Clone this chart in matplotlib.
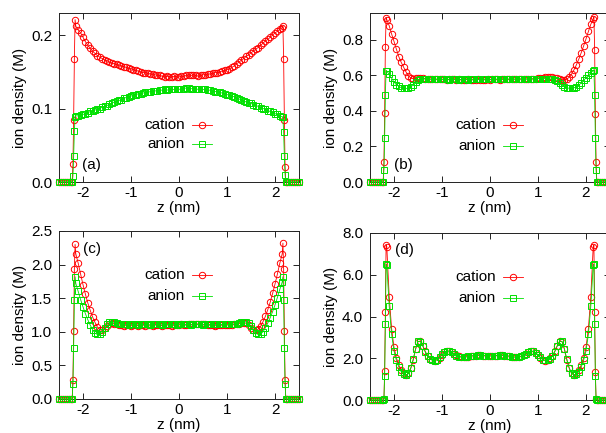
import matplotlib
matplotlib.use("Agg")
import matplotlib.pyplot as plt
from matplotlib.lines import Line2D
from matplotlib.ticker import FormatStrFormatter

plt.rcParams['font.family'] = ['Liberation Sans', 'DejaVu Sans']
plt.rcParams['axes.unicode_minus'] = False

# ---------------- z grid (nm) ----------------
z_wall_left = [-2.50, -2.46, -2.42, -2.38, -2.34, -2.30, -2.26, -2.225]
z_rise_left = [-2.21, -2.195, -2.18, -2.165]
z_main = [-2.15, -2.10, -2.05, -2.00, -1.95, -1.90, -1.85, -1.80, -1.75, -1.70,
          -1.65, -1.60, -1.55, -1.50, -1.45, -1.40, -1.35, -1.30, -1.25, -1.20,
          -1.15, -1.10, -1.05, -1.00, -0.95, -0.90, -0.85, -0.80, -0.75, -0.70,
          -0.65, -0.60, -0.55, -0.50, -0.45, -0.40, -0.35, -0.30, -0.25, -0.20,
          -0.15, -0.10, -0.05, 0.00, 0.05, 0.10, 0.15, 0.20, 0.25, 0.30,
          0.35, 0.40, 0.45, 0.50, 0.55, 0.60, 0.65, 0.70, 0.75, 0.80,
          0.85, 0.90, 0.95, 1.00, 1.05, 1.10, 1.15, 1.20, 1.25, 1.30,
          1.35, 1.40, 1.45, 1.50, 1.55, 1.60, 1.65, 1.70, 1.75, 1.80,
          1.85, 1.90, 1.95, 2.00, 2.05, 2.10, 2.15]
z_rise_right = [2.165, 2.18, 2.195, 2.21]
z_wall_right = [2.225, 2.26, 2.30, 2.34, 2.38, 2.42, 2.46, 2.50]
wall_zeros = [0.0, 0.0, 0.0, 0.0, 0.0, 0.0, 0.0, 0.0]

# ---------------- panel (a) ----------------
a_cat_left = [0.024, 0.085, 0.167, 0.221]
a_cat_main = [0.212, 0.207, 0.203, 0.197, 0.191, 0.186, 0.182, 0.178, 0.175, 0.172,
              0.170, 0.168, 0.166, 0.165, 0.163, 0.162, 0.161, 0.160, 0.159, 0.158,
              0.157, 0.156, 0.155, 0.154, 0.153, 0.152, 0.151, 0.150, 0.149, 0.149,
              0.148, 0.147, 0.147, 0.146, 0.145, 0.145, 0.144, 0.143, 0.144, 0.143,
              0.143, 0.144, 0.143, 0.143, 0.144, 0.144, 0.145, 0.146, 0.145, 0.146,
              0.145, 0.144, 0.145, 0.146, 0.146, 0.147, 0.147, 0.148, 0.149, 0.149,
              0.150, 0.151, 0.152, 0.153, 0.154, 0.156, 0.158, 0.161, 0.163, 0.166,
              0.168, 0.171, 0.173, 0.176, 0.178, 0.181, 0.183, 0.186, 0.189, 0.192,
              0.194, 0.197, 0.200, 0.203, 0.205, 0.208, 0.210]
a_cat_right = [0.212, 0.167, 0.085, 0.021]
a_ani_left = [0.008, 0.035, 0.069, 0.089]
a_ani_main = [0.090, 0.090, 0.091, 0.092, 0.093, 0.094, 0.096, 0.097, 0.098, 0.099,
              0.100, 0.102, 0.103, 0.104, 0.106, 0.107, 0.109, 0.110, 0.111, 0.112,
              0.114, 0.115, 0.116, 0.117, 0.118, 0.119, 0.120, 0.120, 0.121, 0.122,
              0.122, 0.123, 0.124, 0.124, 0.124, 0.125, 0.125, 0.126, 0.125, 0.126,
              0.126, 0.126, 0.127, 0.126, 0.127, 0.127, 0.128, 0.128, 0.127, 0.127,
              0.127, 0.126, 0.127, 0.126, 0.126, 0.125, 0.125, 0.124, 0.123, 0.123,
              0.122, 0.121, 0.120, 0.119, 0.118, 0.117, 0.116, 0.114, 0.113, 0.112,
              0.110, 0.109, 0.108, 0.107, 0.105, 0.104, 0.103, 0.101, 0.100, 0.099,
              0.097, 0.096, 0.095, 0.093, 0.092, 0.090, 0.089]
a_ani_right = [0.088, 0.068, 0.035, 0.010]

# ---------------- panel (b) ----------------
b_cat_left = [0.11, 0.39, 0.76, 0.925]
b_cat_main = [0.915, 0.880, 0.834, 0.792, 0.748, 0.706, 0.674, 0.647, 0.620, 0.598,
              0.586, 0.582, 0.585, 0.588, 0.587, 0.585, 0.583, 0.582, 0.580, 0.579,
              0.580, 0.579, 0.578, 0.579, 0.578, 0.577, 0.578, 0.579, 0.578, 0.577,
              0.578, 0.577, 0.576, 0.577, 0.578, 0.577, 0.576, 0.577, 0.578, 0.577,
              0.576, 0.577, 0.578, 0.577, 0.578, 0.579, 0.578, 0.577, 0.578, 0.579,
              0.578, 0.579, 0.580, 0.579, 0.578, 0.579, 0.580, 0.580, 0.581, 0.580,
              0.581, 0.582, 0.583, 0.584, 0.585, 0.587, 0.589, 0.590, 0.591, 0.590,
              0.588, 0.585, 0.581, 0.577, 0.576, 0.580, 0.590, 0.608, 0.632, 0.660,
              0.692, 0.728, 0.766, 0.806, 0.848, 0.888, 0.920]
b_cat_right = [0.930, 0.745, 0.385, 0.11]
b_ani_left = [0.07, 0.25, 0.49, 0.628]
b_ani_main = [0.625, 0.606, 0.585, 0.563, 0.548, 0.538, 0.532, 0.528, 0.527, 0.529,
              0.536, 0.548, 0.562, 0.574, 0.579, 0.581, 0.581, 0.580, 0.579, 0.579,
              0.578, 0.579, 0.578, 0.578, 0.579, 0.578, 0.577, 0.578, 0.579, 0.578,
              0.577, 0.578, 0.579, 0.578, 0.577, 0.578, 0.579, 0.580, 0.579, 0.578,
              0.579, 0.580, 0.579, 0.578, 0.579, 0.580, 0.579, 0.578, 0.579, 0.580,
              0.579, 0.580, 0.581, 0.580, 0.579, 0.580, 0.581, 0.580, 0.579, 0.580,
              0.581, 0.580, 0.581, 0.582, 0.583, 0.583, 0.582, 0.581, 0.580, 0.579,
              0.576, 0.568, 0.557, 0.546, 0.537, 0.531, 0.528, 0.528, 0.531, 0.537,
              0.546, 0.558, 0.572, 0.587, 0.601, 0.615, 0.627]
b_ani_right = [0.632, 0.49, 0.25, 0.07]

# ---------------- panel (c) ----------------
c_cat_left = [0.29, 1.01, 1.93, 2.30]
c_cat_main = [2.16, 2.02, 1.86, 1.70, 1.56, 1.43, 1.32, 1.22, 1.14, 1.07,
              1.03, 1.02, 1.05, 1.09, 1.12, 1.13, 1.12, 1.11, 1.10, 1.10,
              1.09, 1.10, 1.10, 1.09, 1.10, 1.10, 1.09, 1.10, 1.10, 1.09,
              1.10, 1.10, 1.09, 1.10, 1.10, 1.10, 1.09, 1.10, 1.10, 1.10,
              1.09, 1.10, 1.10, 1.10, 1.11, 1.10, 1.10, 1.11, 1.11, 1.11,
              1.11, 1.12, 1.12, 1.11, 1.11, 1.10, 1.10, 1.10, 1.09, 1.10,
              1.10, 1.10, 1.10, 1.10, 1.10, 1.10, 1.11, 1.11, 1.12, 1.13,
              1.13, 1.13, 1.10, 1.06, 1.03, 1.02, 1.04, 1.08, 1.15, 1.23,
              1.33, 1.44, 1.57, 1.71, 1.86, 2.02, 2.16]
c_cat_right = [2.32, 1.93, 1.01, 0.29]
c_ani_left = [0.23, 0.76, 1.48, 1.82]
c_ani_main = [1.72, 1.60, 1.48, 1.37, 1.27, 1.18, 1.10, 1.03, 0.98, 0.96,
              0.96, 0.99, 1.05, 1.11, 1.14, 1.15, 1.14, 1.13, 1.12, 1.11,
              1.11, 1.11, 1.10, 1.11, 1.11, 1.11, 1.10, 1.11, 1.11, 1.11,
              1.11, 1.10, 1.11, 1.11, 1.11, 1.11, 1.10, 1.11, 1.11, 1.11,
              1.11, 1.11, 1.10, 1.11, 1.11, 1.11, 1.11, 1.11, 1.10, 1.11,
              1.11, 1.11, 1.11, 1.10, 1.11, 1.11, 1.11, 1.11, 1.11, 1.11,
              1.11, 1.11, 1.11, 1.11, 1.11, 1.11, 1.12, 1.12, 1.13, 1.14,
              1.15, 1.15, 1.13, 1.08, 1.02, 0.98, 0.96, 0.97, 1.00, 1.06,
              1.13, 1.21, 1.30, 1.40, 1.51, 1.63, 1.74]
c_ani_right = [1.82, 1.48, 0.76, 0.23]

# ---------------- panel (d) ----------------
d_cat_left = [0.05, 1.38, 4.21, 7.42]
d_cat_main = [7.35, 4.95, 3.42, 2.52, 2.02, 1.68, 1.42, 1.27, 1.20, 1.27,
              1.52, 1.92, 2.43, 2.80, 2.82, 2.60, 2.33, 2.12, 1.98, 1.91,
              1.89, 1.93, 2.03, 2.17, 2.28, 2.34, 2.35, 2.30, 2.22, 2.14,
              2.09, 2.06, 2.05, 2.06, 2.08, 2.10, 2.12, 2.13, 2.14, 2.14,
              2.13, 2.12, 2.11, 2.11, 2.11, 2.12, 2.13, 2.14, 2.14, 2.13,
              2.12, 2.10, 2.08, 2.06, 2.05, 2.06, 2.09, 2.14, 2.22, 2.30,
              2.35, 2.33, 2.26, 2.15, 2.02, 1.93, 1.89, 1.91, 1.99, 2.13,
              2.33, 2.60, 2.82, 2.80, 2.43, 1.92, 1.52, 1.28, 1.20, 1.27,
              1.42, 1.68, 2.02, 2.52, 3.42, 4.95, 7.35]
d_cat_right = [7.42, 4.22, 1.35, 0.05]
d_ani_left = [0.03, 1.15, 3.63, 6.50]
d_ani_main = [6.45, 4.50, 3.15, 2.35, 1.90, 1.58, 1.36, 1.24, 1.19, 1.27,
              1.53, 1.95, 2.46, 2.81, 2.80, 2.58, 2.31, 2.11, 1.97, 1.90,
              1.89, 1.94, 2.04, 2.18, 2.29, 2.34, 2.34, 2.29, 2.21, 2.13,
              2.08, 2.06, 2.05, 2.07, 2.09, 2.11, 2.12, 2.13, 2.14, 2.14,
              2.13, 2.12, 2.12, 2.11, 2.12, 2.12, 2.13, 2.14, 2.14, 2.13,
              2.12, 2.10, 2.08, 2.06, 2.05, 2.07, 2.10, 2.15, 2.22, 2.29,
              2.34, 2.33, 2.27, 2.16, 2.04, 1.94, 1.90, 1.91, 1.98, 2.11,
              2.32, 2.58, 2.80, 2.81, 2.46, 1.96, 1.54, 1.28, 1.19, 1.24,
              1.36, 1.58, 1.90, 2.35, 3.15, 4.50, 6.45]
d_ani_right = [6.50, 3.63, 1.15, 0.03]

panel_labels = ['(a)', '(b)', '(c)', '(d)']
series_names = ['cation', 'anion']
x_ticks = [-2, -1, 0, 1, 2]
y_ticks_a = [0.0, 0.1, 0.2]
y_ticks_b = [0.0, 0.2, 0.4, 0.6, 0.8]
y_ticks_c = [0.0, 0.5, 1.0, 1.5, 2.0, 2.5]
y_ticks_d = [0.0, 2.0, 4.0, 6.0, 8.0]

RED = '#ff0000'
GREEN = '#00e000'
W, H = 606, 433

z_full = z_wall_left + z_rise_left + z_main + z_rise_right + z_wall_right


def full(left, main, right):
    return wall_zeros + left + main + right + wall_zeros


fig = plt.figure(figsize=(W / 100, H / 100), dpi=100)


def px_axes(x0, y_top, x1, y_bot):
    return fig.add_axes([x0 / W, 1 - y_bot / H, (x1 - x0) / W, (y_bot - y_top) / H])


panels = [
    dict(box=(59, 13, 299, 182), cat=full(a_cat_left, a_cat_main, a_cat_right),
         ani=full(a_ani_left, a_ani_main, a_ani_right), ylim=(0, 0.23), yt=y_ticks_a,
         lab=panel_labels[0], lab_xy=(0.095, 0.10), leg_y=(0.337, 0.222)),
    dict(box=(370, 13, 610, 182), cat=full(b_cat_left, b_cat_main, b_cat_right),
         ani=full(b_ani_left, b_ani_main, b_ani_right), ylim=(0, 0.952), yt=y_ticks_b,
         lab=panel_labels[1], lab_xy=(0.099, 0.10), leg_y=(0.337, 0.215)),
    dict(box=(59, 231, 299, 399), cat=full(c_cat_left, c_cat_main, c_cat_right),
         ani=full(c_ani_left, c_ani_main, c_ani_right), ylim=(0, 2.5), yt=y_ticks_c,
         lab=panel_labels[2], lab_xy=(0.100, 0.89), leg_y=(0.736, 0.613)),
    dict(box=(370, 233, 610, 400), cat=full(d_cat_left, d_cat_main, d_cat_right),
         ani=full(d_ani_left, d_ani_main, d_ani_right), ylim=(0, 8.0), yt=y_ticks_d,
         lab=panel_labels[3], lab_xy=(0.103, 0.90), leg_y=(0.736, 0.613)),
]

MS = 4.6
MEW = 0.7
LW = 0.6

for p in panels:
    ax = px_axes(*p['box'])
    ax.plot(z_full, p['cat'], color=RED, lw=LW, marker='o', ms=MS, mfc='none',
            mec=RED, mew=MEW, clip_on=False, zorder=3)
    ax.plot(z_full, p['ani'], color=GREEN, lw=LW, marker='s', ms=MS * 0.95, mfc='none',
            mec=GREEN, mew=MEW, clip_on=False, zorder=4)
    ax.set_xlim(-2.5, 2.5)
    ax.set_ylim(*p['ylim'])
    ax.set_xticks(x_ticks)
    ax.set_yticks(p['yt'])
    ax.yaxis.set_major_formatter(FormatStrFormatter('%.1f'))
    ax.tick_params(direction='in', length=4.5, width=0.6, top=True, right=True,
                   labelsize=11, colors='black')
    ax.tick_params(axis='y', pad=5)
    ax.tick_params(axis='x', pad=3)
    for s in ax.spines.values():
        s.set_linewidth(0.7)
        s.set_color('#222222')
    ax.set_xlabel('z (nm)', fontsize=11)
    ax.xaxis.set_label_coords(0.5, -0.112)
    ax.set_ylabel('ion density (M)', fontsize=11)
    ax.yaxis.set_label_coords(-0.135, 0.5)
    ax.text(p['lab_xy'][0], p['lab_xy'][1], p['lab'], transform=ax.transAxes,
            ha='left', va='center', fontsize=11)
    # key (gnuplot-style: right-justified text, then sample)
    for yk, name, col, mk in zip(p['leg_y'], series_names, [RED, GREEN], ['o', 's']):
        ax.text(0.525, yk, name, transform=ax.transAxes, ha='right', va='center',
                fontsize=11)
        ax.add_line(Line2D([0.555, 0.5955, 0.636], [yk, yk, yk], transform=ax.transAxes,
                           color=col, lw=LW, marker=mk, ms=MS, mfc='none', mec=col,
                           mew=MEW, markevery=[1]))

fig.savefig('out.png', dpi=100)
